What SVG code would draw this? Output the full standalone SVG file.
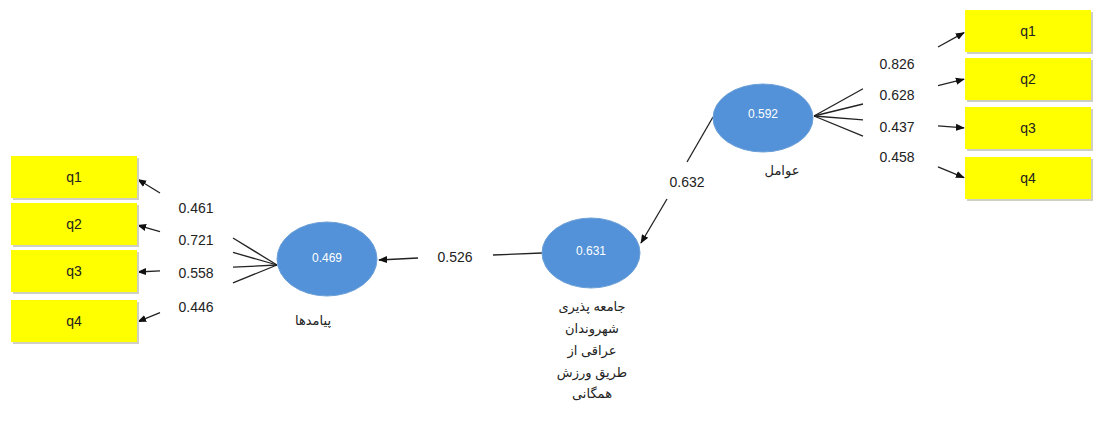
<svg xmlns="http://www.w3.org/2000/svg" width="1094" height="421" viewBox="0 0 1094 421">
<style>
.box{fill:#ffff00;}
.shadow{fill:#cfcfc4;}
.bt{font-family:"Liberation Sans",Arial,sans-serif;font-size:14px;fill:#222;text-anchor:middle;dominant-baseline:central;}
.ell{fill:#5392d8;stroke:#6da0d8;stroke-width:1;}
.et{font-family:"Liberation Sans",Arial,sans-serif;font-size:12px;fill:#ffffff;text-anchor:middle;dominant-baseline:central;}
.lbl{font-family:"Liberation Sans",Arial,sans-serif;font-size:14px;fill:#222;text-anchor:middle;dominant-baseline:central;}
.ar{font-family:"Liberation Sans","DejaVu Sans",sans-serif;font-size:13px;fill:#222;text-anchor:middle;dominant-baseline:central;}
.ln{stroke:#222;stroke-width:1.3;fill:none;}
.arr{marker-end:url(#ah);}
</style>
<defs>
<marker id="ah" viewBox="0 0 10 10" refX="9" refY="5" markerWidth="9" markerHeight="9" markerUnits="userSpaceOnUse" orient="auto">
<path d="M0,1 L10,5 L0,9 Z" fill="#111"/>
</marker>
</defs>
<rect width="1094" height="421" fill="#ffffff"/>

<g id="connectors">
<line class="ln" x1="277" y1="265" x2="233" y2="238"/>
<line class="ln arr" x1="160" y1="193" x2="138" y2="179.5"/>
<line class="ln" x1="277" y1="265" x2="233" y2="252.4"/>
<line class="ln arr" x1="160" y1="231.6" x2="138" y2="225.3"/>
<line class="ln" x1="277" y1="265" x2="233" y2="267.2"/>
<line class="ln arr" x1="160" y1="270.9" x2="138" y2="272"/>
<line class="ln" x1="277" y1="265" x2="233" y2="282.9"/>
<line class="ln arr" x1="160" y1="312.6" x2="138" y2="321.6"/>
<line class="ln" x1="542" y1="253" x2="493" y2="255"/>
<line class="ln arr" x1="418" y1="258" x2="379" y2="260"/>
<line class="ln" x1="713" y1="117" x2="687" y2="162"/>
<line class="ln arr" x1="667" y1="199" x2="641" y2="243"/>
<line class="ln" x1="814" y1="116" x2="863" y2="88.8"/>
<line class="ln arr" x1="938" y1="47" x2="964" y2="32.6"/>
<line class="ln" x1="814" y1="116" x2="863" y2="104"/>
<line class="ln arr" x1="938" y1="85.6" x2="964" y2="79.2"/>
<line class="ln" x1="814" y1="116" x2="863" y2="119.9"/>
<line class="ln arr" x1="938" y1="125.9" x2="964" y2="127.9"/>
<line class="ln" x1="814" y1="116" x2="863" y2="136.1"/>
<line class="ln arr" x1="938" y1="166.9" x2="964" y2="177.6"/>
<text class="lbl" x="196" y="208">0.461</text>
<text class="lbl" x="196" y="240">0.721</text>
<text class="lbl" x="196" y="273">0.558</text>
<text class="lbl" x="196" y="307">0.446</text>
<text class="lbl" x="455" y="257">0.526</text>
<text class="lbl" x="687" y="182">0.632</text>
<text class="lbl" x="897" y="64">0.826</text>
<text class="lbl" x="897" y="95">0.628</text>
<text class="lbl" x="897" y="127">0.437</text>
<text class="lbl" x="897" y="157">0.458</text>
</g>

<g id="L_q1"><rect class="shadow" x="13" y="158" width="126" height="42"/><rect class="box" x="11" y="156" width="126" height="42"/><text class="bt" x="74" y="177">q1</text></g>
<g id="L_q2"><rect class="shadow" x="13" y="205" width="126" height="42"/><rect class="box" x="11" y="203" width="126" height="42"/><text class="bt" x="74" y="224">q2</text></g>
<g id="L_q3"><rect class="shadow" x="13" y="252" width="126" height="42"/><rect class="box" x="11" y="250" width="126" height="42"/><text class="bt" x="74" y="271">q3</text></g>
<g id="L_q4"><rect class="shadow" x="13" y="302" width="126" height="42"/><rect class="box" x="11" y="300" width="126" height="42"/><text class="bt" x="74" y="321">q4</text></g>

<g id="R_q1"><rect class="shadow" x="967" y="12" width="126" height="42"/><rect class="box" x="965" y="10" width="126" height="42"/><text class="bt" x="1028" y="31">q1</text></g>
<g id="R_q2"><rect class="shadow" x="967" y="60" width="126" height="42"/><rect class="box" x="965" y="58" width="126" height="42"/><text class="bt" x="1028" y="79">q2</text></g>
<g id="R_q3"><rect class="shadow" x="967" y="109" width="126" height="42"/><rect class="box" x="965" y="107" width="126" height="42"/><text class="bt" x="1028" y="128">q3</text></g>
<g id="R_q4"><rect class="shadow" x="967" y="159" width="126" height="42"/><rect class="box" x="965" y="157" width="126" height="42"/><text class="bt" x="1028" y="178">q4</text></g>

<g id="outcomes">
<ellipse class="ell" cx="327" cy="259" rx="50" ry="37"/>
<text class="et" x="327" y="258">0.469</text>
<text class="ar" x="313" y="320" direction="rtl">پیامدها</text>
</g>

<g id="socialization">
<ellipse class="ell" cx="591" cy="253" rx="49" ry="35"/>
<text class="et" x="591" y="251">0.631</text>
<text class="ar" x="592" y="306" direction="rtl">جامعه پذیری</text>
<text class="ar" x="592" y="328" direction="rtl">شهروندان</text>
<text class="ar" x="592" y="350" direction="rtl">عراقی از</text>
<text class="ar" x="592" y="372" direction="rtl">طریق ورزش</text>
<text class="ar" x="592" y="393" direction="rtl">همگانی</text>
</g>

<g id="factors">
<ellipse class="ell" cx="763" cy="118" rx="50" ry="34"/>
<text class="et" x="763" y="114">0.592</text>
<text class="ar" x="782" y="170" direction="rtl">عوامل</text>
</g>
</svg>
